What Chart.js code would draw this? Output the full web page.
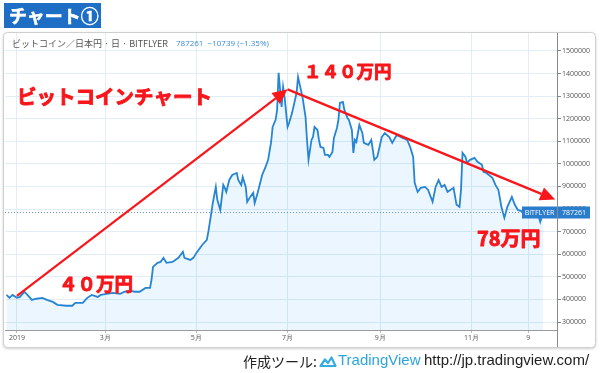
<!DOCTYPE html>
<html>
<head>
<meta charset="utf-8">
<script src="https://cdn.jsdelivr.net/npm/chart.js@4.4.0/dist/chart.umd.min.js"></script>
<style>
  body { margin: 0; background: #fff; }
  #wrap { position: relative; width: 600px; height: 373px; overflow: hidden; }
  #title {
    position: absolute; left: 4px; top: 3px; width: 97px; height: 25px;
    background: #1d6ec4; color: #fff; font: bold 18px "Noto Sans CJK JP", sans-serif;
    line-height: 25px; padding-left: 5px; box-sizing: border-box;
    -webkit-text-stroke: 0.5px #fff;
  }
  #footer { position: absolute; left: 0; top: 351px; width: 600px; height: 20px; }
  #footer span { position: absolute; top: 0; line-height: 20px; white-space: nowrap; }
  canvas { position: absolute; left: 0; top: 0; }
</style>
</head>
<body>
<div id="wrap">
  <canvas id="chart" width="600" height="373"></canvas>
  <div id="title">チャート①</div>
  <div id="footer">
    <span style="left:243px;font:14px 'Noto Sans CJK JP',sans-serif;color:#222;">作成ツール:</span>
    <svg style="position:absolute;left:319px;top:3px" width="18" height="14" viewBox="0 0 18 14">
      <path d="M1.5 12 L6 5.5 L9 9 L12.5 3.5 L16.5 12 Z" fill="none" stroke="#35ace2" stroke-width="2.2" stroke-linejoin="round"/>
    </svg>
    <span style="left:338px;font:15px 'Liberation Sans',sans-serif;color:#2ba6df;">TradingView</span>
    <span style="left:424px;font:15px 'Liberation Sans',sans-serif;color:#222;">http://jp.tradingview.com/</span>
  </div>
</div>
<script>
// days counted from 2019-01-01, close price in JPY
const dayOffsets = [-7, -5, -3, 0, 2, 5, 7, 10, 13, 17, 20, 24, 27, 33, 37, 39, 44, 47, 50, 54, 56, 60, 64, 69, 72, 76, 79, 82, 86, 89,
  90, 91, 94, 96, 98, 100, 104, 108, 111, 112, 116, 118, 120, 124, 127, 128, 130, 131, 133, 134, 136, 138, 139, 140, 142, 144, 147, 148, 150, 151,
  153, 154, 156, 158, 159, 161, 164, 166, 168, 170, 171, 173, 174, 175, 177, 178, 179, 181, 182, 184, 187, 188, 191, 193, 194, 195, 197, 198, 199, 201,
  202, 203, 205, 206, 208, 209, 211, 212, 214, 215, 216, 218, 219, 221, 222, 224, 225, 226, 227, 229, 231, 232, 235, 237, 239, 241, 244, 246, 249, 251,
  254, 258, 261, 263, 265, 266, 268, 270, 273, 275, 278, 280, 282, 284, 286, 288, 292, 294, 296, 297, 298, 300, 301, 303, 306, 308, 311, 312, 314, 318,
  320, 322, 324, 326, 328, 331, 333, 335, 339, 341, 345, 348, 350, 351, 352];
const prices = [420000, 407000, 420000, 407000, 411000, 434000, 420000, 398000, 403000, 407000, 398000, 389000, 376000, 372000, 372000, 385000, 385000, 407000, 420000, 411000, 420000, 425000, 429000, 425000, 434000, 438000, 434000, 434000, 451000, 451000,
  487000, 544000, 562000, 566000, 584000, 562000, 566000, 584000, 611000, 584000, 575000, 584000, 606000, 642000, 664000, 699000, 783000, 827000, 898000, 841000, 796000, 907000, 894000, 876000, 929000, 951000, 960000, 929000, 907000, 942000,
  898000, 832000, 854000, 872000, 827000, 872000, 951000, 982000, 1018000, 1097000, 1164000, 1195000, 1239000, 1403000, 1252000, 1341000, 1296000, 1164000, 1181000, 1226000, 1314000, 1385000, 1296000, 1208000, 1106000, 1018000, 1106000, 1119000, 1164000, 1150000,
  1106000, 1075000, 1071000, 1040000, 1040000, 1031000, 1053000, 1115000, 1159000, 1195000, 1270000, 1274000, 1239000, 1204000, 1195000, 1150000, 1049000, 1106000, 1097000, 1173000, 1137000, 1093000, 1084000, 1106000, 1018000, 1031000, 1119000, 1137000, 1119000, 1093000,
  1128000, 1115000, 1106000, 1075000, 1031000, 916000, 876000, 894000, 898000, 885000, 832000, 898000, 929000, 898000, 907000, 876000, 894000, 819000, 810000, 885000, 1049000, 1031000, 1005000, 1018000, 1027000, 1009000, 996000, 965000, 960000, 938000,
  907000, 885000, 810000, 761000, 810000, 854000, 819000, 796000, 788000, 783000, 788000, 788000, 743000, 765000, 787261];

const xTickDays = [0, 59, 120, 181, 243, 304, 342];
const xTickLabels = ['2019', '3月', '5月', '7月', '9月', '11月', '9'];
const yTicks = [300000, 400000, 500000, 600000, 700000, 800000, 900000, 1000000, 1100000, 1200000, 1300000, 1400000, 1500000];
const lastPrice = 787261;

// red trend arrows (day, price)
const arrowDays = [0, 181, 360];
const arrowPrices = [416000, 1330000, 842000];

const points = dayOffsets.map((d, i) => ({ x: d, y: prices[i] }));

function arrow(ctx, x1, y1, x2, y2) {
  const a = Math.atan2(y2 - y1, x2 - x1);
  const len = 15, w = 7;
  const bx = x2 - Math.cos(a) * len, by = y2 - Math.sin(a) * len;
  ctx.beginPath();
  ctx.moveTo(x1, y1);
  ctx.lineTo(bx, by);
  ctx.stroke();
  ctx.beginPath();
  ctx.moveTo(x2, y2);
  ctx.lineTo(bx + Math.sin(a) * w, by - Math.cos(a) * w);
  ctx.lineTo(bx - Math.sin(a) * w, by + Math.cos(a) * w);
  ctx.closePath();
  ctx.fill();
}

function heavyText(ctx, text, x, y) {
  ctx.fillText(text, x, y);
  ctx.strokeText(text, x, y);
}

const framePlugin = {
  id: 'frame',
  beforeDraw(chart) {
    const ctx = chart.ctx;
    ctx.save();
    ctx.fillStyle = '#fff';
    ctx.fillRect(0, 0, 600, 373);
    ctx.shadowColor = 'rgba(0,0,0,0.25)';
    ctx.shadowBlur = 3;
    ctx.shadowOffsetY = 1;
    ctx.beginPath();
    ctx.roundRect(3.5, 32.5, 592, 315, 4);
    ctx.fillStyle = '#fff';
    ctx.fill();
    ctx.shadowColor = 'transparent';
    ctx.strokeStyle = '#cfcfcf';
    ctx.lineWidth = 1;
    ctx.stroke();
    ctx.restore();
  },
  afterDraw(chart) {
    const ctx = chart.ctx;
    const x = chart.scales.x, y = chart.scales.y;
    const area = chart.chartArea;
    ctx.save();

    // price axis separator down to frame bottom
    ctx.strokeStyle = '#8a8a8a';
    ctx.lineWidth = 1;
    ctx.beginPath();
    ctx.moveTo(area.right + 0.5, area.top);
    ctx.lineTo(area.right + 0.5, 347);
    ctx.stroke();

    // last price dotted line
    const py = Math.round(y.getPixelForValue(lastPrice)) + 0.5;
    ctx.strokeStyle = '#6e9cc8';
    ctx.setLineDash([1, 2]);
    ctx.beginPath();
    ctx.moveTo(area.left, py);
    ctx.lineTo(area.right, py);
    ctx.stroke();
    ctx.setLineDash([]);

    // header
    ctx.textBaseline = 'middle';
    ctx.font = '9px "Noto Sans CJK JP", sans-serif';
    ctx.fillStyle = '#555';
    ctx.fillText('ビットコイン／日本円 · 日 · BITFLYER', 12, 44);
    ctx.font = '8px "Open Sans", sans-serif';
    ctx.fillStyle = '#3b8ad6';
    ctx.fillText('787261  −10739 (−1.35%)', 176, 44);

    // red arrows
    ctx.strokeStyle = '#f8161a';
    ctx.fillStyle = '#f8161a';
    ctx.lineWidth = 2.2;
    for (let i = 0; i < arrowDays.length - 1; i++) {
      arrow(ctx,
        x.getPixelForValue(arrowDays[i]), y.getPixelForValue(arrowPrices[i]),
        x.getPixelForValue(arrowDays[i + 1]), y.getPixelForValue(arrowPrices[i + 1]));
    }

    // last price labels
    ctx.fillStyle = '#2a7ccc';
    ctx.fillRect(522, py - 6, 35, 12);
    ctx.fillRect(558, py - 6, 32, 12);
    ctx.fillStyle = '#fff';
    ctx.font = '7px "Open Sans", sans-serif';
    ctx.textAlign = 'center';
    ctx.fillText('BITFLYER', 539.5, py);
    ctx.fillText('787261', 574, py);

    // red annotations
    ctx.fillStyle = '#f8161a';
    ctx.strokeStyle = '#f8161a';
    ctx.lineWidth = 0.9;
    ctx.lineJoin = 'round';
    ctx.textAlign = 'left';
    ctx.font = 'bold 19.5px "Noto Sans CJK JP", sans-serif';
    heavyText(ctx, 'ビットコインチャート', 17, 97);
    ctx.font = 'bold 17.5px "Noto Sans CJK JP", sans-serif';
    heavyText(ctx, '１４０万円', 304, 71);
    ctx.font = 'bold 18.5px "Noto Sans CJK JP", sans-serif';
    heavyText(ctx, '４０万円', 59, 284);
    ctx.font = 'bold 20px "Noto Sans CJK JP", sans-serif';
    heavyText(ctx, '78万円', 477, 238);
    ctx.restore();
  }
};

new Chart(document.getElementById('chart'), {
  type: 'line',
  data: {
    datasets: [{
      data: points,
      borderColor: '#2585d4',
      borderWidth: 1.8,
      pointRadius: 0,
      tension: 0,
      fill: 'start',
      backgroundColor: 'rgba(33,150,243,0.09)'
    }]
  },
  options: {
    responsive: false,
    animation: false,
    devicePixelRatio: 1,
    layout: { padding: { left: 5, top: 33, right: 5, bottom: 26 } },
    plugins: { legend: { display: false }, tooltip: { enabled: false } },
    scales: {
      x: {
        type: 'linear',
        min: -8,
        max: 361.2,
        afterBuildTicks: (s) => { s.ticks = xTickDays.map(v => ({ value: v })); },
        afterFit: (s) => { s.height = 17; },
        grid: { color: '#e2edf5', tickLength: 3, tickColor: '#bbb' },
        border: { color: '#9a9a9a' },
        ticks: {
          padding: 1,
          maxRotation: 0,
          autoSkip: false,
          color: '#555',
          font: { size: 7, family: '"Open Sans", sans-serif' },
          callback: (v) => xTickLabels[xTickDays.indexOf(v)]
        }
      },
      y: {
        position: 'right',
        min: 264600,
        max: 1579600,
        afterBuildTicks: (s) => { s.ticks = yTicks.map(v => ({ value: v })); },
        afterFit: (s) => { s.width = 38; },
        grid: { color: '#e2edf5', tickLength: 4, tickColor: '#888' },
        border: { color: '#8a8a8a' },
        ticks: {
          padding: 1,
          color: '#555',
          font: { size: 7, family: '"Open Sans", sans-serif' },
          callback: (v) => String(v)
        }
      }
    }
  },
  plugins: [framePlugin]
});
</script>
</body>
</html>
